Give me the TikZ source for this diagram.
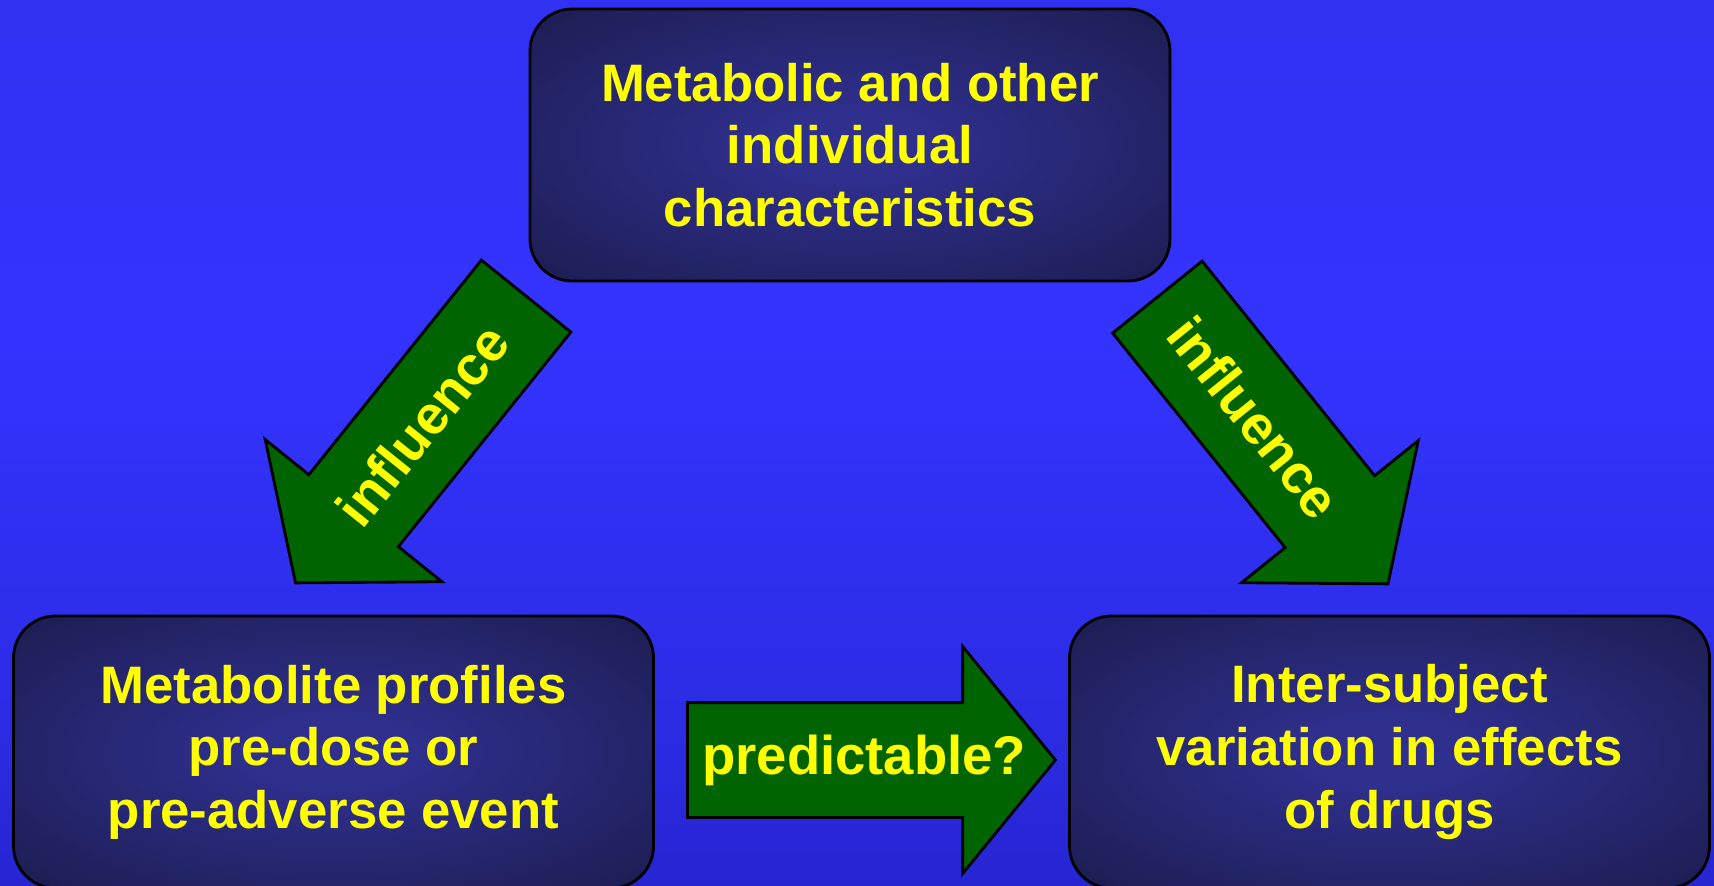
\documentclass[tikz,border=0pt]{standalone}
\usepackage{fontspec}
\setmainfont{Liberation Sans}
\usepackage{tikz}
\usetikzlibrary{shapes.arrows, calc}

\definecolor{bgtop}{RGB}{46, 46, 222}
\definecolor{bgmid}{RGB}{51, 51, 255}
\definecolor{bglow}{RGB}{44, 44, 228}
\definecolor{bgbottom}{RGB}{18, 18, 160}
\definecolor{boxglow}{RGB}{47, 47, 142}
\definecolor{boxnavy}{RGB}{27, 27, 76}
\definecolor{arrowgreen}{RGB}{0, 100, 0}
\definecolor{labelyellow}{RGB}{255, 255, 0}

\pgfdeclareverticalshading{slidebg}{100bp}{color(0bp)=(bgbottom); color(34bp)=(bglow); color(56bp)=(bgmid); color(100bp)=(bgtop)}
\pgfdeclareradialshading{boxshade}{\pgfpoint{0bp}{0bp}}{color(0bp)=(boxglow); color(6bp)=(boxglow); color(38bp)=(boxnavy); color(50bp)=(boxnavy)}

\begin{document}
\begin{tikzpicture}[
  box/.style={draw=black, line width=0.8pt, rounded corners=0.42cm, shade, shading=boxshade,
    minimum width=6.4cm, minimum height=2.72cm, align=center, text=labelyellow,
    font=\fontsize{15}{17.8}\selectfont\bfseries},
  bigarrow/.style={single arrow, draw=black, line width=0.8pt, fill=arrowgreen,
    inner xsep=0pt, inner ysep=0.56cm, minimum height=3.68cm,
    single arrow head extend=0.56cm, single arrow tip angle=101.5},
  arrowlabel/.style={text=labelyellow, inner sep=0pt, font=\fontsize{15.5}{18}\selectfont\bfseries}
]
  \useasboundingbox (0, 0) rectangle (17.14, 8.85);
  \clip (0, 0) rectangle (17.14, 8.85);

  % Slide background
  \shade[shading=slidebg] (0, 0) rectangle (17.14, 8.85);

  % Boxes
  \node[box] (traits) at (8.50, 7.40) {Metabolic and other\\individual\\characteristics};
  \node[box] (profiles) at (3.335, 1.33) {Metabolite profiles\\pre-dose or\\pre-adverse event};
  \node[box] (variation) at (13.895, 1.33) {Inter-subject\\variation in effects\\of drugs};

  % Influence arrows
  \node[bigarrow, rotate=231.2, anchor=tail] (leftinfl) at (5.27, 5.90) {};
  \node[arrowlabel, rotate=51.2] at ($(leftinfl.tail)!0.45!(leftinfl.tip)$) {influence};

  \node[bigarrow, rotate=-51.2, anchor=tail] (rightinfl) at (11.565, 5.89) {};
  \node[arrowlabel, rotate=-51.2] at ($(rightinfl.tail)!0.42!(rightinfl.tip)$) {influence};

  % Predictable arrow
  \node[bigarrow, anchor=tail] (predict) at (6.86, 1.25) {};
  \node[arrowlabel] at ($(predict.tail)!0.48!(predict.tip)$) {predictable?};
\end{tikzpicture}
\end{document}
